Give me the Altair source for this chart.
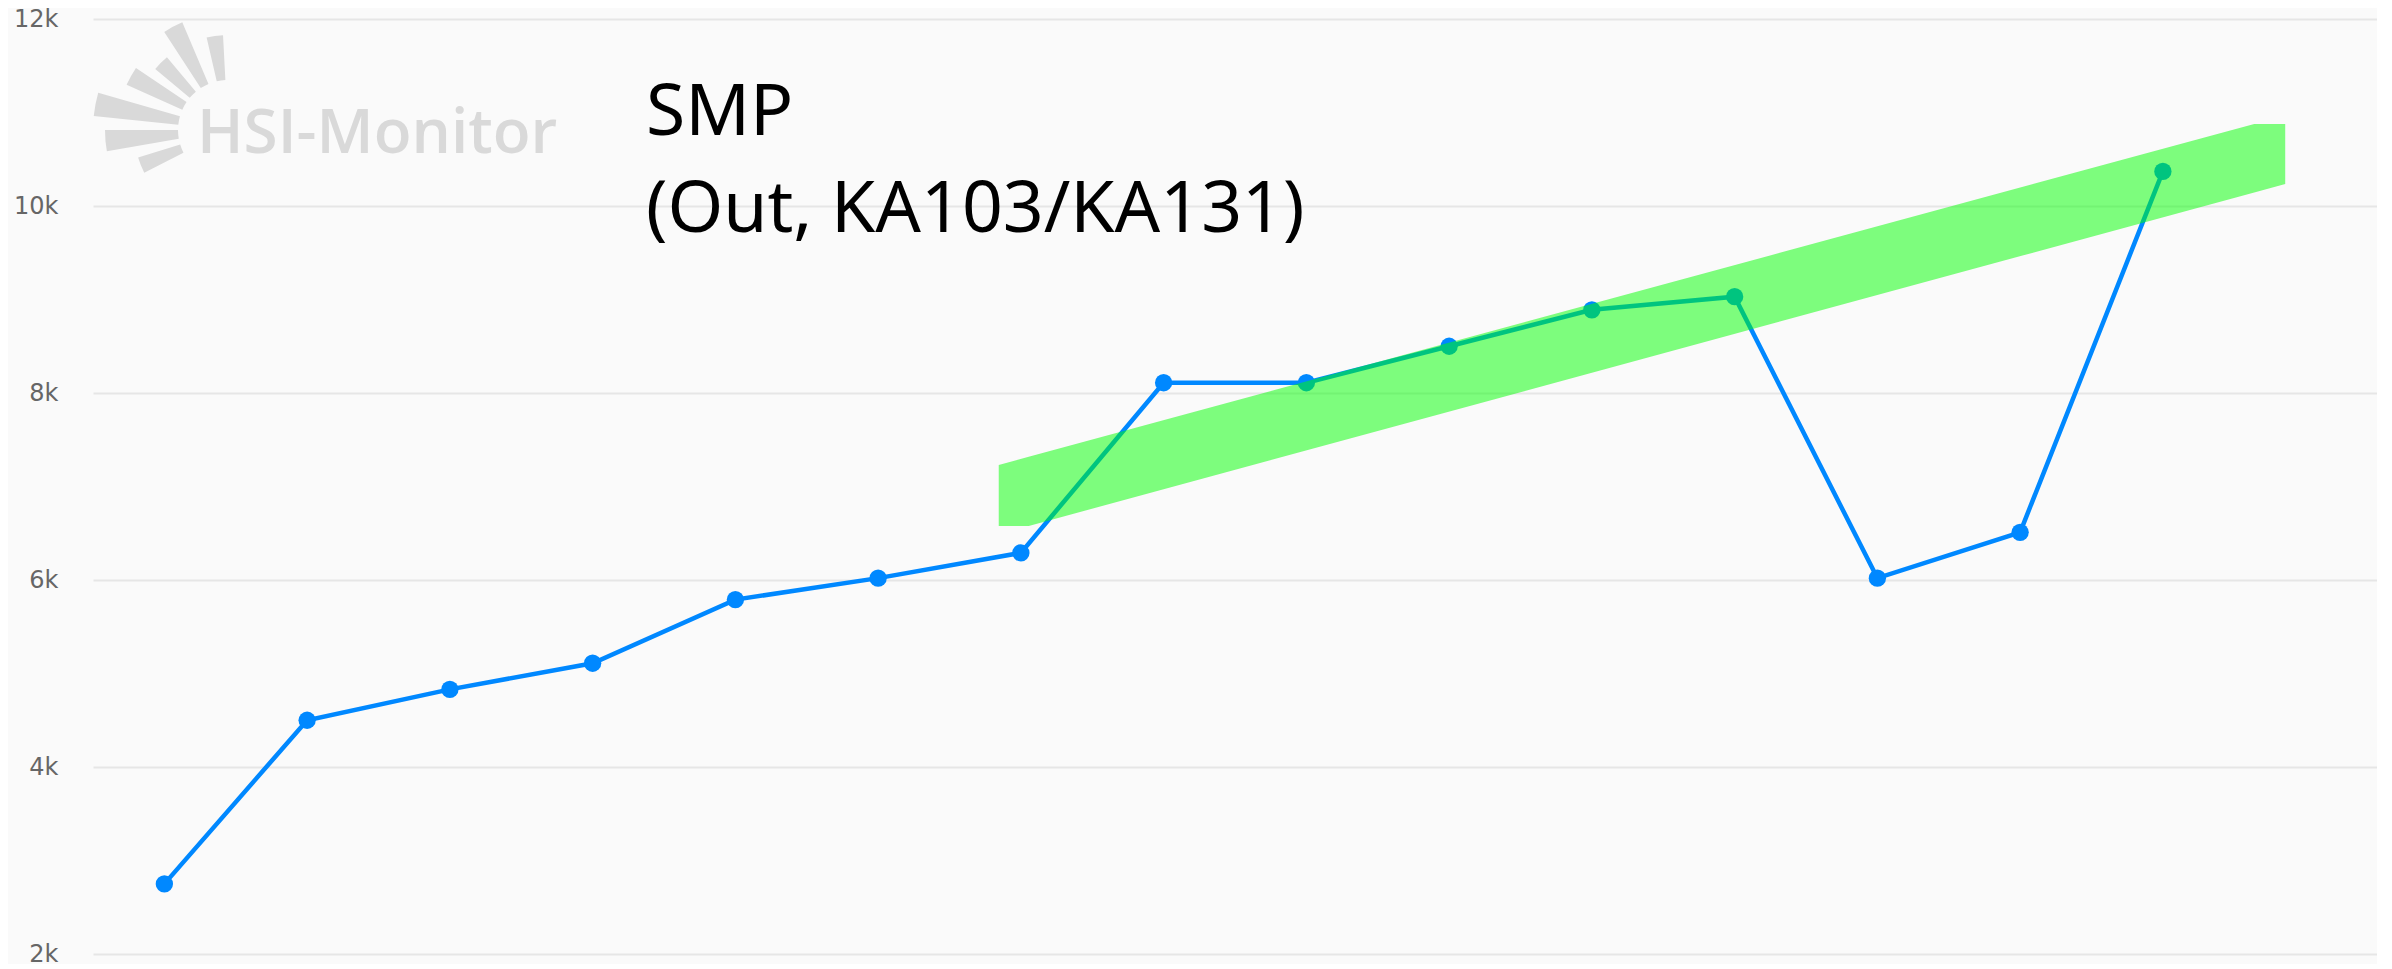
import math
import altair as alt
import pandas as pd

# ---- data ----
periods = list(range(15))
values = [2750, 4500, 4830, 5110, 5790, 6020, 6290, 8110, 8110, 8500, 8890, 9030, 6020, 6510, 10370]

band_x = [5.845, 6.055, 14.64, 14.857]
band_low = [6578, 6578, 10145, 10235]
band_high = [7230, 7317, 10877, 10877]

y_ticks = [2000, 4000, 6000, 8000, 10000, 12000]
title_lines = ["SMP", "(Out, KA103/KA131)"]
logo_text = "HSI-Monitor"

series = pd.DataFrame({"p": periods, "v": values})
band = pd.DataFrame({"p": band_x, "lo": band_low, "hi": band_high})
one = pd.DataFrame({"a": [0]})

BLUE = "#0088ff"
xs = alt.Scale(domain=[-0.5, 15.5], nice=False, zero=False)
ys = alt.Scale(domain=[2000, 12000], nice=False, zero=False)
yaxis = alt.Axis(values=y_ticks, labelExpr="datum.value/1000 + 'k'", title=None,
                 domain=False, ticks=False, tickSize=0, labelPadding=35,
                 labelFontSize=24, labelFont="DejaVu Sans", labelColor="#666666",
                 gridColor="#e6e6e6", gridWidth=2)

line = alt.Chart(series).mark_line(color=BLUE, strokeWidth=4.5).encode(
    x=alt.X("p:Q", scale=xs, axis=None),
    y=alt.Y("v:Q", scale=ys, axis=yaxis),
)
pts = alt.Chart(series).mark_circle(color=BLUE, size=300, opacity=1).encode(
    x=alt.X("p:Q", scale=xs, axis=None),
    y=alt.Y("v:Q", scale=ys, axis=yaxis),
)
channel = alt.Chart(band).mark_area(color="#00ff00", opacity=0.5).encode(
    x=alt.X("p:Q", scale=xs, axis=None),
    y=alt.Y("lo:Q", scale=ys, axis=yaxis),
    y2="hi:Q",
)

title_txt = alt.Chart(one).mark_text(
    text=title_lines, align="left", baseline="alphabetic", fontSize=71.5,
    font="Noto Sans", color="#000000", lineHeight=97,
).encode(x=alt.value(553), y=alt.value(116))

logo_txt = alt.Chart(one).mark_text(
    text=logo_text, align="left", baseline="alphabetic", fontSize=62,
    font="Open Sans", fontWeight=600, color="#d9d9d9",
).encode(x=alt.value(104), y=alt.value(134))

# logo fan: (center angle in degrees, outer radius)
fan = [(248, 94), (265, 123), (281, 135), (299, 111), (315, 95), (332, 117), (352, 95)]
logo_arcs = []
for ang, r in fan:
    logo_arcs.append(
        alt.Chart(one).mark_arc(
            theta=math.radians(ang - 5), theta2=math.radians(ang + 5),
            radius=r, radius2=50, color="#d9d9d9",
        ).encode(x=alt.value(135), y=alt.value(111))
    )

chart = alt.layer(*logo_arcs, logo_txt, line, pts, channel, title_txt).properties(
    width=2284, height=935,
    autosize=alt.AutoSizeParams(type="none"),
    padding={"left": 85, "top": 11, "right": 0, "bottom": 10},
    background="#fafafa",
).configure_view(stroke=None)

chart.save("out.html", embed_options={"renderer": "svg", "actions": False})
